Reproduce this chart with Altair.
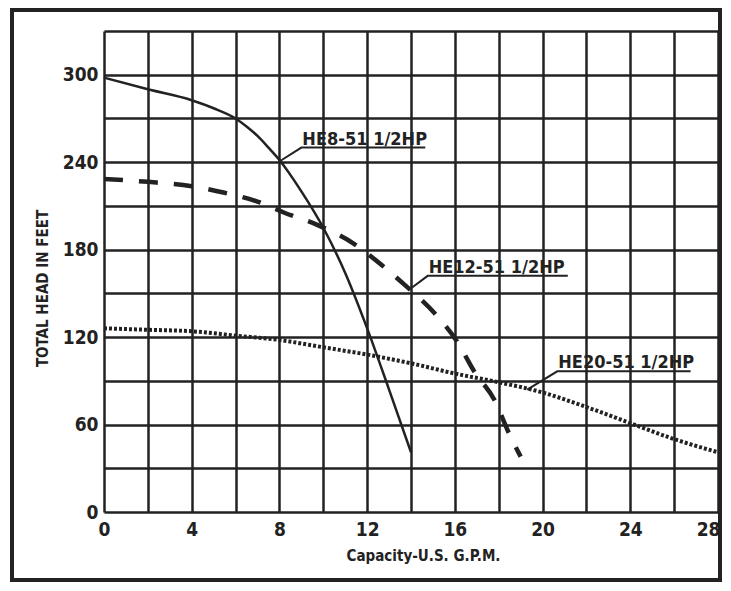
import altair as alt
import pandas as pd

FONT = "DejaVu Sans Condensed, DejaVu Sans, sans-serif"
INK = "#222222"

# Curve readings (Capacity US GPM, Total head ft)
he8_x = [0, 2, 4, 5, 6, 6.5, 7, 7.5, 8, 9, 10, 11, 12, 13, 14]
he8_y = [298, 290, 282.5, 277, 270, 264.5, 258, 250, 241.5, 220, 195, 164, 126, 84, 41]

he12_x = [0, 2, 4, 5.5, 7, 8.2, 9.8, 11.4, 12.7, 13.7, 15.1, 16.1, 16.9, 17.8, 18.5, 19]
he12_y = [228.5, 226.5, 223.5, 219, 213, 205.5, 196.5, 184, 169, 156, 136, 117, 96, 77, 53, 38]

he20_x = [0, 2, 4, 6, 8, 10, 12, 14, 16, 18, 20, 22, 24, 26, 28]
he20_y = [126, 125, 124, 121, 118, 113, 108, 102, 95, 89, 82, 72, 61, 50, 41]

# Callout labels: text, leader start, underline start, underline end
label_text = ["HE8-51 1/2HP", "HE12-51 1/2HP", "HE20-51 1/2HP"]
leader_x0 = [8.05, 14.05, 19.3]
leader_y0 = [241, 154, 84]
under_x0 = [9.0, 14.76, 20.67]
under_y = [250, 162, 96.5]
under_x1 = [14.65, 21.15, 26.75]

x_ticks = list(range(0, 29, 2))
y_ticks = list(range(0, 331, 30))

he8 = pd.DataFrame({"x": he8_x, "y": he8_y})
he12 = pd.DataFrame({"x": he12_x, "y": he12_y})
he20 = pd.DataFrame({"x": he20_x, "y": he20_y})

rows = []
for i, t in enumerate(label_text):
    rows.append({"lab": t, "o": 0, "x": leader_x0[i], "y": leader_y0[i]})
    rows.append({"lab": t, "o": 1, "x": under_x0[i], "y": under_y[i]})
    rows.append({"lab": t, "o": 2, "x": under_x1[i], "y": under_y[i]})
callout = pd.DataFrame(rows)
labels = pd.DataFrame({"lab": label_text, "x": under_x0, "y": under_y})

xs = alt.Scale(domain=[0, 28], nice=False, zero=False)
ys = alt.Scale(domain=[0, 330], nice=False)

xax = alt.Axis(
    values=x_ticks,
    labelExpr="datum.value % 4 == 0 ? datum.label : ''",
    title="Capacity-U.S. G.P.M.",
    ticks=False, domain=False, grid=True,
    gridColor=INK, gridWidth=2.5, gridOpacity=1,
    labelFont=FONT, labelFontSize=19, labelFontWeight="bold", labelColor=INK,
    labelAlign={"condition": {"test": "datum.value == 28", "value": "right"}, "value": "center"},
    labelOffset={"condition": {"test": "datum.value == 28", "value": 2}, "value": 0},
    labelPadding=8, labelFlush=False, labelOverlap=False,
    titleFont=FONT, titleFontSize=15, titleFontWeight="bold", titleColor=INK,
    titleX=319, titleY=43, titleAlign="center", titleBaseline="middle",
)
yax = alt.Axis(
    values=y_ticks,
    labelExpr="datum.value % 60 == 0 ? datum.label : ''",
    title="TOTAL HEAD IN FEET",
    ticks=False, domain=False, grid=True,
    gridColor=INK, gridWidth=2.5, gridOpacity=1,
    labelFont=FONT, labelFontSize=19, labelFontWeight="bold", labelColor=INK,
    labelPadding=6, labelFlush=False, labelOverlap=False,
    titleFont=FONT, titleFontSize=15, titleFontWeight="bold", titleColor=INK,
    titleX=-62, titleY=257, titleAlign="center", titleBaseline="middle", titleAngle=-90,
)

base_x = alt.X("x:Q", scale=xs, axis=xax)
base_y = alt.Y("y:Q", scale=ys, axis=yax)

solid = alt.Chart(he8).mark_line(color=INK, strokeWidth=2.5, interpolate="monotone").encode(
    x=base_x, y=base_y
)
dashed = alt.Chart(he12).mark_line(
    color=INK, strokeWidth=4.5, strokeDash=[19, 16], interpolate="monotone"
).encode(x="x:Q", y="y:Q")
dotted = alt.Chart(he20).mark_line(
    color=INK, strokeWidth=4, strokeDash=[3, 2], interpolate="monotone"
).encode(x="x:Q", y="y:Q")

lead = alt.Chart(callout).mark_line(color=INK, strokeWidth=2).encode(
    x="x:Q", y="y:Q", detail="lab:N", order="o:Q"
)
txt = alt.Chart(labels).mark_text(
    align="left", baseline="alphabetic", dy=-3, dx=1,
    font=FONT, fontSize=18, fontWeight="bold", color=INK
).encode(x="x:Q", y="y:Q", text="lab:N")

frame = alt.Chart(labels).mark_rect(filled=False, stroke=INK, strokeWidth=4).encode(
    x=alt.value(-92), x2=alt.value(616), y=alt.value(-21), y2=alt.value(549)
)

chart = alt.layer(solid, dashed, dotted, lead, txt, frame).properties(
    width=614, height=481,
    autosize=alt.AutoSizeParams(type="none"),
    padding={"left": 96, "top": 23, "right": 5, "bottom": 71},
).configure_view(stroke=INK, strokeWidth=3.5).configure(background="white")

chart.save("out.html", embed_options={"renderer": "svg", "actions": False})
